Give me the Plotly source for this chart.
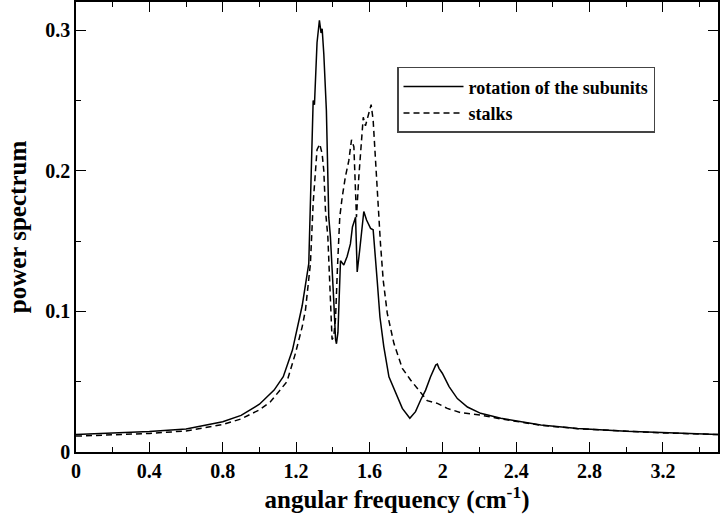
import plotly.graph_objects as go

# power spectrum, values
x_rot = [0.0, 0.2, 0.4, 0.6, 0.8, 0.9, 1.0, 1.08, 1.13, 1.18, 1.205, 1.233, 1.269, 1.278,
         1.293, 1.300, 1.314, 1.327, 1.336, 1.342, 1.351, 1.365, 1.373, 1.378, 1.387, 1.396,
         1.405, 1.415, 1.42, 1.428, 1.438, 1.442, 1.460, 1.478, 1.496, 1.507, 1.524, 1.533,
         1.547, 1.569, 1.584, 1.606, 1.620, 1.633, 1.642, 1.657, 1.678, 1.706, 1.742, 1.779,
         1.820, 1.851, 1.879, 1.906, 1.933, 1.961, 1.970, 1.979, 1.997, 2.034, 2.079, 2.134,
         2.206, 2.316, 2.534, 2.735, 3.0, 3.2, 3.5]
y_rot = [0.0125, 0.0133, 0.0145, 0.0163, 0.0215, 0.026, 0.034, 0.044, 0.0535, 0.0725, 0.087,
         0.104, 0.134, 0.172, 0.250, 0.247, 0.291, 0.307, 0.298, 0.301, 0.283, 0.243, 0.196,
         0.167, 0.153, 0.124, 0.108, 0.080, 0.077, 0.085, 0.134, 0.136, 0.133, 0.139, 0.148,
         0.160, 0.167, 0.128, 0.144, 0.171, 0.165, 0.159, 0.158, 0.132, 0.122, 0.096, 0.075,
         0.0535, 0.0417, 0.031, 0.024, 0.0287, 0.037, 0.044, 0.0535, 0.0618, 0.0625, 0.0595,
         0.056, 0.0465, 0.038, 0.032, 0.0275, 0.024, 0.0192, 0.0168, 0.0148, 0.0137, 0.0125]

x_stalk = [0.0, 0.2, 0.4, 0.6, 0.8, 0.9, 1.0, 1.06, 1.15, 1.196, 1.233, 1.251, 1.278, 1.293,
           1.305, 1.314, 1.329, 1.342, 1.351, 1.360, 1.373, 1.387, 1.396, 1.405, 1.415, 1.425,
           1.438, 1.451, 1.469, 1.487, 1.502, 1.515, 1.524, 1.529, 1.542, 1.555, 1.566, 1.578,
           1.596, 1.609, 1.620, 1.633, 1.660, 1.675, 1.697, 1.733, 1.779, 1.824, 1.870, 1.915,
           1.970, 2.024, 2.097, 2.206, 2.316, 2.534, 2.735, 3.0, 3.2, 3.5]
y_stalk = [0.0113, 0.0120, 0.0132, 0.0150, 0.0195, 0.0235, 0.030, 0.0357, 0.050, 0.070, 0.089,
           0.101, 0.134, 0.177, 0.196, 0.215, 0.219, 0.212, 0.200, 0.172, 0.153, 0.106, 0.080,
           0.082, 0.095, 0.130, 0.167, 0.181, 0.196, 0.207, 0.222, 0.217, 0.184, 0.167, 0.196,
           0.219, 0.238, 0.232, 0.241, 0.247, 0.236, 0.205, 0.148, 0.122, 0.0986, 0.0773,
           0.0595, 0.0512, 0.044, 0.0365, 0.0346, 0.031, 0.028, 0.0263, 0.0235, 0.019, 0.0166,
           0.0146, 0.0136, 0.0124]

font = "Liberation Serif"

fig = go.Figure()
fig.add_trace(go.Scatter(x=x_rot, y=y_rot, mode="lines", name="<b>rotation of the subunits</b>",
                         line=dict(color="black", width=1.5)))
fig.add_trace(go.Scatter(x=x_stalk, y=y_stalk, mode="lines", name="<b>stalks</b>",
                         line=dict(color="black", width=1.5, dash="6px,4px")))

axis_common = dict(showgrid=False, zeroline=False, showline=True, linecolor="black",
                   linewidth=1.5, mirror="allticks", ticks="inside", ticklen=10,
                   tickwidth=1.2, tickcolor="black", automargin=False,
                   tickprefix="<b>", ticksuffix="</b>",
                   tickfont=dict(family=font, size=20, color="black"))

fig.update_xaxes(range=[0, 3.5], dtick=0.4, tick0=0,
                 minor=dict(dtick=0.2, ticks="inside", ticklen=5, tickcolor="black"),
                 title=dict(text="<b>angular frequency (cm<sup>-1</sup>)</b>",
                            font=dict(family=font, size=25, color="black"), standoff=10),
                 **axis_common)
fig.update_yaxes(range=[0, 0.32], dtick=0.1, tick0=0,
                 minor=dict(dtick=0.05, ticks="inside", ticklen=5, tickcolor="black"),
                 title=dict(text="<b>power spectrum</b>",
                            font=dict(family=font, size=25, color="black"), standoff=12),
                 **axis_common)

fig.update_layout(
    width=720, height=518,
    margin=dict(l=76, r=2, t=2, b=66),
    paper_bgcolor="white", plot_bgcolor="white",
    font=dict(family=font, size=19, color="black"),
    legend=dict(x=0.5, y=0.856, xanchor="left", yanchor="top",
                bordercolor="#444", borderwidth=1.5, bgcolor="white",
                font=dict(family=font, size=18, color="black"),
                itemwidth=60),
)

# page body has an 8px default margin; drop it so the figure fills the window
fig.write_html("out.html", config={"displayModeBar": False},
               post_script="document.body.style.margin='0';")
